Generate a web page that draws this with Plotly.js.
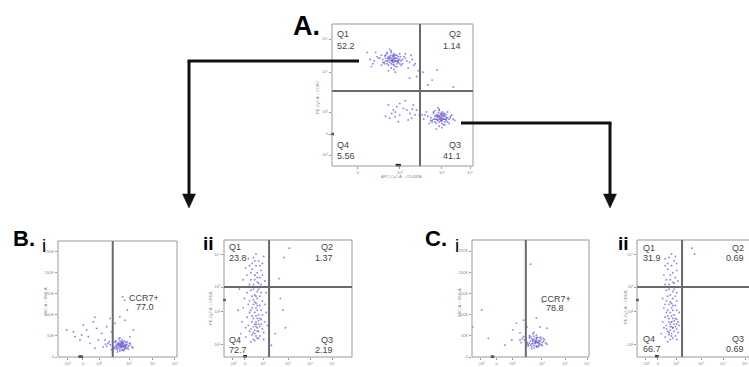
<!DOCTYPE html>
<html><head><meta charset="utf-8">
<script src="https://cdn.plot.ly/plotly-3.0.1.min.js"></script>
<style>html,body{margin:0;padding:0;background:#fff}#chart{width:749px;height:367px}</style>
</head><body><div id="chart"></div>
<script>
// ---------- DATA (axis units: 0-100 of each axis; B.i / C.i y in K) ----------
const panelNames = ["A", "B.i", "B.ii", "C.i", "C.ii"];
const quadLabelsA = ["Q1", "Q2", "Q3", "Q4"];
const quadValuesA = ["52.2", "1.14", "41.1", "5.56"];
const quadValuesBii = ["23.8", "1.37", "2.19", "72.7"];
const quadValuesCii = ["31.9", "0.69", "0.69", "66.7"];
const gateLabel = "CCR7+";
const gateValueBi = "77.0";
const gateValueCi = "78.8";
const gateX = [62.4, 46, 35.2, 46, 35.2];
const gateY = [52.8, null, 59.8, null, 59.8];

const eventsA = [
[43,75],[41,77],[45,74],[38,76],[47,73],[44,78],[40,74],[42,72],[46,76],[39,79],
[36,75],[49,74],[51,77],[44,71],[42,80],[37,73],[34,76],[48,79],[45,70],[41,75],
[43,73],[40,77],[46,72],[50,75],[53,74],[35,71],[32,77],[39,80],[44,76],[47,75],
[42,69],[38,74],[45,78],[41,82],[48,72],[43,74],[36,73],[52,76],[55,73],[30,74],
[40,67],[46,70],[44,79],[42,76],[39,72],[47,77],[43,75],[41,73],[45,74],[38,78],
[49,71],[44,68],[57,75],[33,76],[42,81],[46,74],[40,71],[44,77],[48,75],[37,72],
[41,76],[43,78],[45,76],[39,74],[47,74],[42,74],[44,73],[40,76],[46,78],[43,77],
[50,72],[35,78],[52,79],[29,72],[58,71],[31,80],[54,69],[27,75],[56,78],[45,66],
[42.5,74.5],[44.5,75.5],[41.5,78],[46.5,73.5],[39.5,75.5],[43.5,71.5],[48.5,77],[37.5,77.5],
[77,34],[75,36],[79,33],[73,35],[81,32],[78,37],[74,33],[76,31],[80,35],[72,38],
[70,34],[83,33],[85,36],[78,30],[76,39],[71,32],[68,35],[82,38],[79,29],[75,34],
[77,32],[74,36],[80,31],[84,34],[86,33],[69,30],[66,36],[73,39],[78,35],[81,34],
[76,28],[72,33],[79,37],[75,41],[82,31],[77,33],[70,32],[84,35],[87,32],[65,33],
[74,26],[80,29],[78,38],[76,35],[73,31],[81,36],[77,34],[75,32],[79,33],[72,37],
[83,30],[78,27],[67,38],[64,36],[76,40],[80,33],[74,30],[78,36],[82,34],[71,31],
[75,35],[77,37],[79,35],[73,33],[81,33],[76,33],[78,32],[74,35],[80,37],[77,36],
[76.5,34.5],[78.5,33.5],[77.5,31.5],[75.5,37.5],[79.5,36],[74.5,32.5],
[40,43],[43.5,39.4],[46,41.8],[48,36],[50.6,40.6],[53,39.4],[41,33.6],[44.7,34.7],
[55.3,37],[57.7,43],[60,39.4],[54,32.4],[47,31.2],[42.3,37],[56.5,33.6],[58.9,36],
[48,44],[52,46],[45,38],[57,40],[62,36],[38,35],
[64.5,66],[74.5,67.6],[86,55.6],[71,60.5],[68,57],
[61,67],[59,72],[28,70],[60,63],[25,80],[55,62]
];
const eventsBi = [
[53,26],[51,30],[55,24],[49,28],[57,22],[54,33],[50,22],[52,19],[56,29],[48,34],
[46,26],[59,25],[61,31],[54,18],[52,38],[47,21],[44,29],[58,36],[55,15],[51,27],
[53,23],[50,32],[56,20],[60,27],[62,24],[45,17],[42,32],[49,37],[54,29],[57,28],
[52,14],[48,24],[55,35],[51,43],[58,21],[53,25],[46,23],[60,33],[63,22],[41,25],
[50,12],[56,18],[54,40],[52,31],[49,20],[57,34],[53,28],[51,23],[55,26],[48,38],
[59,19],[54,16],[43,36],[40,30],[52,45],[56,25],[50,17],[54,35],[58,30],[47,19],
[51,33],[53,36],[55,31],[49,25],[57,26],[52,26],[54,24],[50,29],[56,38],[53,32],
[7.3,63.7],[12.9,59.8],[21.3,75.5],[25.5,48],[29.7,83.4],[32.5,67.6],[36.7,55.8],
[39.5,40],[40.9,71.5],[43.7,91.2],[33.9,40],[26.9,32.3],[18.5,40],[24.1,63.7],
[54.3,142],[56.3,87],[58.3,111],[52,95],[47.9,79.5],[38,24],[31,20.5],[14.3,48],
[19.9,52],[45,59.8],[60.5,48],[63.3,63.7],[31,94],[56,134]
];
const eventsBii = [
[24,20],[26,25],[22,30],[28,18],[25,35],[20,22],[27,28],[23,15],[29,32],[21,40],
[25,42],[30,24],[19,27],[26,16],[24,38],[28,44],[22,19],[27,36],[23,26],[25,30],
[18,34],[31,21],[24,47],[26,50],[21,13],[29,40],[23,45],[27,22],[20,38],[25,18],
[32,30],[17,25],[24,28],[28,33],[22,52],[26,56],[30,48],[19,45],[25,60],[23,58],
[27,63],[21,66],[29,55],[24,70],[26,72],[22,75],[28,68],[20,62],[25,78],[27,82],
[23,85],[30,80],[18,70],[26,64],[24,53],[21,57],[28,60],[32,65],[16,50],[25,88],
[29,74],[22,80],[19,84],[31,86],[24,66],[27,58],[23,62],[20,78],[26,44],[33,38],
[14,30],[15,42],[13,20],[34,27],[31,15],[17,17],[28,26],[24,23],[26,33],[22,35],
[25,26],[27,31],[23,21],[29,28],[21,24],[25,46],[28,52],[20,48],[26,40],[23,33],
[30,36],[18,55],[24,14],[27,16],[22,42],[32,45],[19,60],[26,68],[21,72],[28,78],
[24,82],[30,70],[17,76],[25,52],[23,49],[29,62],[12,58],[33,55],[15,66],[11,40],
[51,93],[47,85],[43,67],[46,40],[48,25],[40,20],[37,10],[44,50]
];
const eventsCi = [
[54,36],[52,40],[56,33],[50,38],[58,31],[55,43],[51,31],[53,27],[57,39],[49,45],
[47,35],[60,34],[62,41],[55,26],[53,49],[48,29],[45,40],[59,47],[56,23],[52,37],
[54,32],[51,43],[57,28],[61,37],[63,33],[46,24],[43,43],[50,48],[55,39],[58,37],
[53,21],[49,33],[56,46],[52,55],[59,29],[54,34],[47,32],[61,44],[64,30],[42,34],
[51,20],[57,26],[55,52],[53,42],[50,28],[58,45],[54,38],[52,32],[56,35],[49,50],
[60,27],[55,24],[44,48],[41,40],[53,58],[57,34],[51,25],[55,46],[59,41],[48,26],
[8.3,111],[0.5,71],[13.9,44],[28,28],[35,64],[38,80],[44,87],[50,219],[60,130],
[55,92],[58,71],[64,68],[47,71],[41,57],[34,40]
];
const eventsCii = [
[27,20],[28,25],[25,30],[30,18],[27,35],[24,22],[29,28],[26,15],[31,32],[24,40],
[27,42],[31,24],[23,27],[28,16],[26,38],[30,44],[25,19],[29,36],[26,26],[27,30],
[22,34],[32,21],[26,47],[28,50],[24,13],[31,40],[25,45],[29,22],[23,38],[27,18],
[32,30],[21,25],[26,28],[30,33],[24,52],[28,56],[31,48],[22,45],[27,60],[25,58],
[29,63],[23,66],[31,55],[26,70],[28,72],[24,75],[30,68],[22,62],[27,78],[29,82],
[25,85],[31,80],[21,70],[28,64],[26,53],[23,57],[30,60],[32,65],[20,50],[27,88],
[31,74],[24,80],[22,84],[30,86],[26,66],[29,58],[25,62],[22,78],[28,44],[33,38],
[20,30],[21,42],[19,20],[33,27],[31,15],[22,17],[30,26],[26,23],[28,33],[24,35],
[27,26],[29,31],[25,21],[31,28],[23,24],[27,46],[30,52],[23,48],[28,40],[25,33],
[43,93],[45,88]
];
// density hot spots (drawn in warm colours)
const denseA = [[43,75],[44,74],[77,34],[78,33],[76,35]];
const denseBi = [[54,26],[56,24],[53,29]];
const denseBii = [[24,70],[26,22],[25,28]];
const denseCi = [[55,36],[57,34]];
const denseCii = [[28,25],[27,30]];
// events piled on the axes
const axisEventsA = [[46,0.6],[47,0.6],[48,0.6],[0.4,22.5]];
const axisEventsBi = [[18,0.5],[19,0.5],[20,0.5]];
const axisEventsBii = [[16,0.6],[17,0.6],[0.3,48.7]];
const axisEventsCi = [[17,0.5],[18,0.5]];
const axisEventsCii = [[15,0.6],[16,0.6],[0.3,48.7]];

const ticksA_x = [18.4, 48.2, 78, 97.9], ticksA_xt = ["0", "10³", "10⁴", "10⁵"];
const ticksA_y = [7.7, 22.5, 38, 66.2, 89.4], ticksA_yt = ["-10³", "0", "10³", "10⁴", "10⁵"];
const ticksLin_x = [7.6, 21, 34.5, 59.7, 79.8, 98.3], ticksLin_xt = ["-10²", "0", "10²", "10³", "10⁴", "10⁵"];
const ticksLin_y = [0, 50, 100, 150, 200, 250], ticksLin_yt = ["0", "50K", "100K", "150K", "200K", "250K"];
const ticksQ_x = [7, 16.4, 30.5, 50, 67.2, 84.4], ticksQ_xt = ["-10²", "0", "10²", "10³", "10⁴", "10⁵"];
const ticksQ_y = [10.3, 38.5, 59.8, 87.2], ticksQ_yt = ["-10²", "10²", "10³", "10⁴"];

// ---------- BUILD ----------
const W = 749, H = 367;
const px = x => x / W, py = y => 1 - y / H;
const FONT = "Liberation Sans, Arial, sans-serif";
const sets = [
  [eventsA, denseA, axisEventsA],
  [eventsBi, denseBi, axisEventsBi],
  [eventsBii, denseBii, axisEventsBii],
  [eventsCi, denseCi, axisEventsCi],
  [eventsCii, denseCii, axisEventsCii]
];
const traces = [];
sets.forEach((s, i) => {
  const xa = i === 0 ? 'x' : 'x' + (i + 1), ya = i === 0 ? 'y' : 'y' + (i + 1);
  traces.push({type: 'scatter', mode: 'markers', xaxis: xa, yaxis: ya, name: panelNames[i],
    x: s[0].map(p => p[0]), y: s[0].map(p => p[1]),
    marker: {size: 1.9, color: 'rgba(60,60,230,0.6)'}, hoverinfo: 'skip'});
  traces.push({type: 'scatter', mode: 'markers', xaxis: xa, yaxis: ya,
    x: s[1].map(p => p[0]), y: s[1].map(p => p[1]),
    marker: {size: 1.9, color: 'rgba(230,90,50,0.9)'}, hoverinfo: 'skip'});
  traces.push({type: 'scatter', mode: 'markers', xaxis: xa, yaxis: ya,
    x: s[2].map(p => p[0]), y: s[2].map(p => p[1]),
    marker: {size: 2.5, symbol: 'square', color: '#222'}, hoverinfo: 'skip', cliponaxis: false});
});

function axis(dom, range, tv, tt, anchor, isX) {
  return {domain: dom, range: range, anchor: anchor, tickvals: tv, ticktext: tt,
    showgrid: false, zeroline: false, showline: false, ticks: 'outside', ticklen: 2,
    tickwidth: 1, tickcolor: '#999', tickfont: {size: 4, color: '#888', family: FONT},
    tickangle: 0, fixedrange: true};
}
const yBot = py(357);
const layout = {
  width: W, height: H, margin: {l: 0, r: 0, t: 0, b: 0},
  paper_bgcolor: '#fff', plot_bgcolor: 'rgba(0,0,0,0)', showlegend: false,
  xaxis:  axis([px(332), px(473)], [0, 100], ticksA_x, ticksA_xt, 'y', true),
  yaxis:  axis([py(166), py(24)], [0, 100], ticksA_y, ticksA_yt, 'x', false),
  xaxis2: axis([px(58), px(177)], [0, 100], ticksLin_x, ticksLin_xt, 'y2', true),
  yaxis2: axis([yBot, py(241)], [0, 274], ticksLin_y, ticksLin_yt, 'x2', false),
  xaxis3: axis([px(224), px(352)], [0, 100], ticksQ_x, ticksQ_xt, 'y3', true),
  yaxis3: axis([yBot, py(240)], [0, 100], ticksQ_y, ticksQ_yt, 'x3', false),
  xaxis4: axis([px(472), px(589)], [0, 100], ticksLin_x, ticksLin_xt, 'y4', true),
  yaxis4: axis([yBot, py(240)], [0, 276], ticksLin_y, ticksLin_yt, 'x4', false),
  xaxis5: axis([px(637), 1], [0, 87.5], ticksQ_x, ticksQ_xt, 'y5', true),
  yaxis5: axis([yBot, py(240)], [0, 100], ticksQ_y, ticksQ_yt, 'x5', false),
  shapes: [], annotations: []
};
const frame = {color: '#9a9a9a', width: 1};
['', '2', '3', '4'].forEach(k => {
  layout.shapes.push({type: 'rect', xref: 'x' + k + ' domain', yref: 'y' + k + ' domain',
    x0: 0, x1: 1, y0: 0, y1: 1, line: frame, layer: 'above'});
});
[[0, 0, 0, 1], [0, 1, 1, 1], [0, 0, 1, 0]].forEach(l => {
  layout.shapes.push({type: 'line', xref: 'x5 domain', yref: 'y5 domain',
    x0: l[0], y0: l[1], x1: l[2], y1: l[3], line: frame, layer: 'above'});
});
const gateLine = {color: '#6a6a6a', width: 2};
gateX.forEach((g, i) => {
  const k = i === 0 ? '' : String(i + 1);
  layout.shapes.push({type: 'line', xref: 'x' + k, yref: 'y' + k + ' domain',
    x0: g, x1: g, y0: 0, y1: 1, line: gateLine});
  if (gateY[i] !== null) layout.shapes.push({type: 'line', xref: 'x' + k + ' domain', yref: 'y' + k,
    x0: 0, x1: 1, y0: gateY[i], y1: gateY[i], line: gateLine});
});
// arrows
const arrowLine = {color: '#111', width: 3};
function seg(x0, y0, x1, y1) {
  layout.shapes.push({type: 'line', xref: 'paper', yref: 'paper', x0: px(x0), y0: py(y0),
    x1: px(x1), y1: py(y1), line: arrowLine, layer: 'above'});
}
function head(x, yTop, yTip) {
  layout.shapes.push({type: 'path', xref: 'paper', yref: 'paper', layer: 'above',
    path: `M ${px(x - 6.5)},${py(yTop)} L ${px(x + 6.5)},${py(yTop)} L ${px(x)},${py(yTip)} Z`,
    fillcolor: '#111', line: {color: '#111', width: 0.5}});
}
seg(187.5, 61, 359, 61); seg(189, 61, 189, 196); head(189, 194, 208);
seg(461, 123, 611.5, 123); seg(610, 123, 610, 196); head(610, 194, 208);

function ann(text, x, y, o = {}) {
  layout.annotations.push(Object.assign({text: text, x: px(x), y: py(y), xref: 'paper', yref: 'paper',
    showarrow: false, xanchor: 'left', yanchor: 'middle',
    font: {size: 9, color: '#444', family: FONT}}, o));
}
const R = {xanchor: 'right'}, C = {xanchor: 'center'};
// A quadrants
ann(quadLabelsA[0], 335, 34); ann(quadValuesA[0], 335, 45.5);
ann(quadLabelsA[1], 463, 34, R); ann(quadValuesA[1], 463, 45.5, R);
ann(quadLabelsA[3], 335, 145); ann(quadValuesA[3], 335, 156);
ann(quadLabelsA[2], 463, 145, R); ann(quadValuesA[2], 463, 156, R);
// B ii
ann(quadLabelsA[0], 227, 247); ann(quadValuesBii[0], 227, 258);
ann(quadLabelsA[1], 335, 247, R); ann(quadValuesBii[1], 335, 258, R);
ann(quadLabelsA[3], 227, 340); ann(quadValuesBii[3], 227, 349.5);
ann(quadLabelsA[2], 335, 340, R); ann(quadValuesBii[2], 335, 349.5, R);
// C ii
ann(quadLabelsA[0], 641, 248); ann(quadValuesCii[0], 641, 258);
ann(quadLabelsA[1], 746, 248, R); ann(quadValuesCii[1], 746, 258, R);
ann(quadLabelsA[3], 641, 339); ann(quadValuesCii[3], 641, 348.5);
ann(quadLabelsA[2], 746, 339, R); ann(quadValuesCii[2], 746, 348.5, R);
// gates
ann(gateLabel, 143.5, 298, C); ann(gateValueBi, 145, 307, C);
ann(gateLabel, 556, 298.5, C); ann(gateValueCi, 555, 308, C);
// panel letters
const big = s => ({font: {size: s, color: '#000', family: FONT}});
ann('<b>A.</b>', 291, 26, big(27));
ann('<b>B.</b>', 11, 239, big(22));
ann('i', 40, 245, big(19));
ann('<b>ii</b>', 201, 243.5, big(19));
ann('<b>C.</b>', 423, 239, big(22));
ann('i', 453, 245, big(19));
ann('<b>ii</b>', 616, 243.5, big(19));
// tiny axis titles
const tiny = (a) => Object.assign({font: {size: 4, color: '#888', family: FONT}, xanchor: 'center'}, a || {});
ann('APC-Cy7-A :: CD45RA', 401, 176, tiny());
ann('PE-Cy7-A :: CCR7', 317, 97, tiny({textangle: -90}));
ann('SSC-A :: SSC-A', 45, 302, tiny({textangle: -90}));
ann('PE-Cy7-A :: CD62L', 210, 307, tiny({textangle: -90}));
ann('SSC-A :: SSC-A', 459, 303, tiny({textangle: -90}));
ann('PE-Cy7-A :: CD62L', 625, 307, tiny({textangle: -90}));

Plotly.newPlot('chart', traces, layout, {staticPlot: true, displayModeBar: false});
</script></body></html>
